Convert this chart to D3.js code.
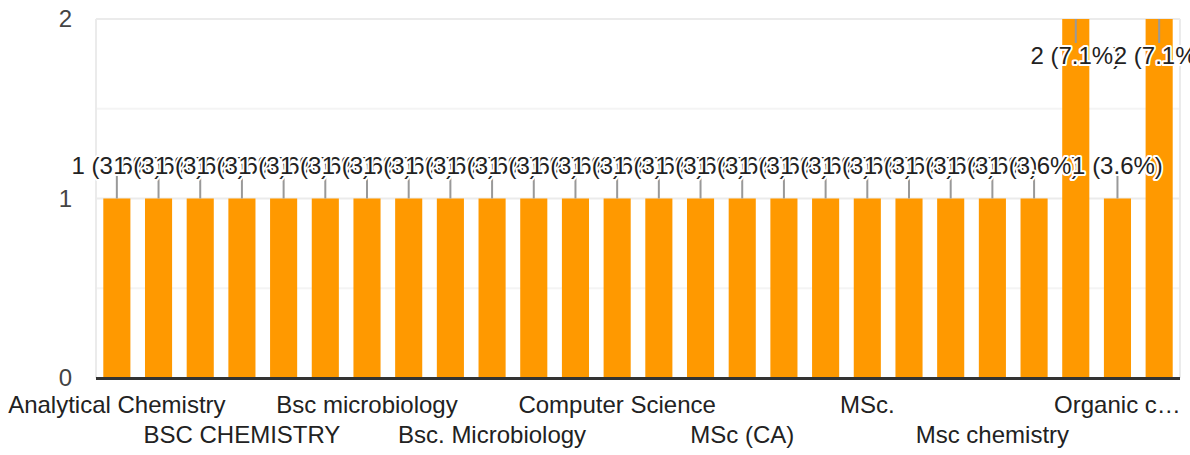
<!DOCTYPE html>
<html>
<head>
<meta charset="utf-8">
<script src="https://cdn.jsdelivr.net/npm/d3@7"></script>
<style>
  html, body { margin: 0; padding: 0; background: #fff; }
  svg { display: block; font-family: "Liberation Sans", Arial, sans-serif; }
</style>
</head>
<body>
<svg id="chart" width="1190" height="455"></svg>
<script>
const categories = [
  "Analytical Chemistry", "B.Sc Chemistry", "B.Sc. Microbiology", "BSC CHEMISTRY",
  "Bsc Chemistry", "BSc Microbiology", "Bsc microbiology", "Bsc zoology", "Bsc.",
  "Bsc. Microbiology", "Chemistry", "Commerce", "Computer Science", "M.Sc Chemistry",
  "MCA", "MSc (CA)", "MSc Chemistry", "MSc Physics", "MSc.", "Msc", "Msc Botany",
  "Msc chemistry", "Msc microbiology", "Msc. Chemistry", "Organic chemistry", "Physics"
];
const values = [1,1,1,1,1,1,1,1,1,1,1,1,1,1,1,1,1,1,1,1,1,1,1,2,1,2];
const yTicks = [0, 1, 2];
const yGrid = [0.5, 1, 1.5, 2];

const plotLeft = 96, plotRight = 1180, plotTop = 19, plotBottom = 378;
const svg = d3.select("#chart");

const total = d3.sum(values);
const x = d3.scaleBand().domain(categories).range([plotLeft, plotRight]).paddingInner(0.35).paddingOuter(0.175);
const y = d3.scaleLinear().domain([0, 2]).range([plotBottom, plotTop]);

// gridlines
svg.append("g").selectAll("line").data(yGrid).join("line")
  .attr("x1", plotLeft).attr("x2", plotRight)
  .attr("y1", d => y(d)).attr("y2", d => y(d))
  .attr("stroke", d => Number.isInteger(d) ? "#ebebeb" : "#f4f4f4")
  .attr("stroke-width", 2);
// frame verticals
svg.append("line").attr("x1", plotLeft).attr("x2", plotLeft).attr("y1", y(2)).attr("y2", plotBottom)
  .attr("stroke", "#ebebeb").attr("stroke-width", 2);
svg.append("line").attr("x1", plotRight).attr("x2", plotRight).attr("y1", y(2)).attr("y2", plotBottom)
  .attr("stroke", "#ebebeb").attr("stroke-width", 2);

// bars
svg.append("g").selectAll("rect").data(categories).join("rect")
  .attr("x", d => x(d)).attr("width", x.bandwidth())
  .attr("y", (d, i) => y(values[i]))
  .attr("height", (d, i) => y(0) - y(values[i]))
  .attr("fill", "#ff9900");

// baseline
svg.append("line").attr("x1", plotLeft).attr("x2", plotRight)
  .attr("y1", y(0) + 0.5).attr("y2", y(0) + 0.5)
  .attr("stroke", "#333").attr("stroke-width", 3);

// y tick labels
svg.append("g").selectAll("text").data(yTicks).join("text")
  .attr("x", 72).attr("y", d => y(d)).attr("dy", "0.35em")
  .attr("text-anchor", "end").attr("font-size", 24).attr("fill", "#444")
  .text(d => d);

// annotations
const ann = svg.append("g");
categories.forEach((c, i) => {
  const v = values[i];
  const cx = x(c) + x.bandwidth() / 2;
  const yt = y(v);
  const above = yt - 45 > 0;
  const stemEnd = above ? yt - 23 : yt + 24;
  ann.append("line").attr("x1", cx).attr("x2", cx).attr("y1", yt).attr("y2", stemEnd)
    .attr("stroke", "#999").attr("stroke-width", 2);
});
categories.forEach((c, i) => {
  const v = values[i];
  const cx = x(c) + x.bandwidth() / 2;
  const yt = y(v);
  const above = yt - 45 > 0;
  const base = above ? yt - 25 : yt + 45;
  ann.append("text").attr("x", cx).attr("y", base)
    .attr("text-anchor", "middle").attr("font-size", 24).attr("fill", "#222")
    .attr("stroke", "#fff").attr("stroke-width", 4).attr("stroke-linejoin", "round")
    .attr("paint-order", "stroke")
    .text(`${v} (${(v / total * 100).toFixed(1)}%)`);
});

// x labels: every third, staggered in two rows
const xl = svg.append("g");
categories.forEach((c, i) => {
  if (i % 3 !== 0) return;
  const k = i / 3;
  const cx = x(c) + x.bandwidth() / 2;
  const t = xl.append("text").attr("x", cx).attr("y", k % 2 === 0 ? 413 : 443)
    .attr("text-anchor", "middle").attr("font-size", 24).attr("fill", "#222").text(c);
  const maxW = 2 * Math.min(3 * x.step(), 1182 - cx);
  if (t.node().getComputedTextLength() > maxW) {
    let s = c;
    while (s.length > 1) {
      s = s.slice(0, -1);
      t.text(s.trimEnd() + "…");
      if (t.node().getComputedTextLength() <= maxW) break;
    }
  }
});
</script>
</body>
</html>
